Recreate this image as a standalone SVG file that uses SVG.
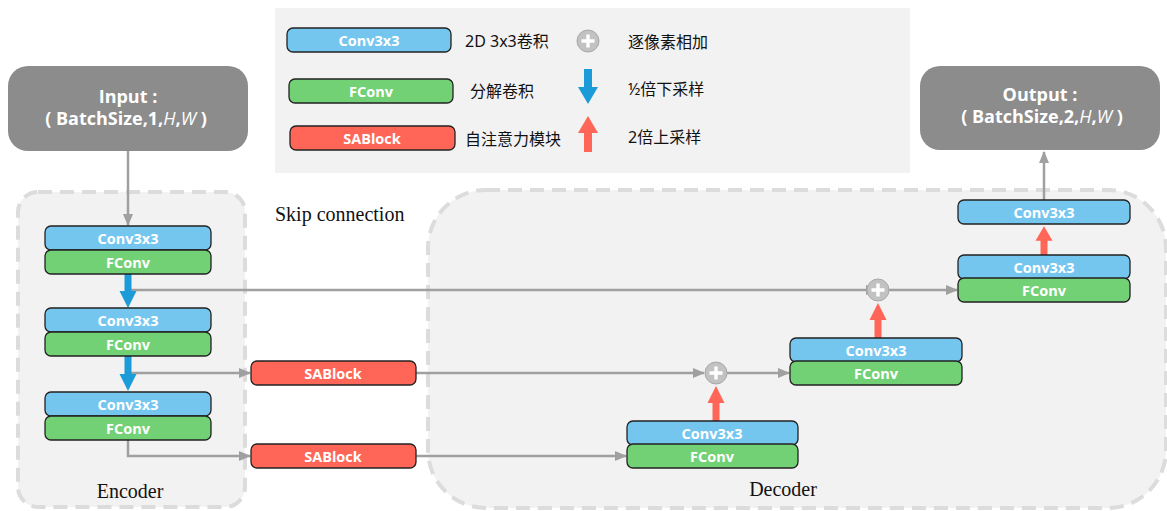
<svg xmlns="http://www.w3.org/2000/svg" width="1167" height="511" viewBox="0 0 1167 511">
<defs>
<style>
.cv{fill:#75c6ef;stroke:#222;stroke-width:1.3}
.fc{fill:#72d174;stroke:#222;stroke-width:1.3}
.sa{fill:#ff6657;stroke:#222;stroke-width:1.3}
.bt{font-family:"Open Sans","Noto Sans",sans-serif;font-weight:bold;font-size:14.5px;fill:#fff;text-anchor:middle;dominant-baseline:central}
.lg{font-family:"Noto Sans","Noto Sans CJK SC",sans-serif;font-size:16px;fill:#111;dominant-baseline:central}
.io{font-family:"Open Sans","Noto Sans",sans-serif;font-weight:bold;font-size:18px;fill:#fff;text-anchor:middle}
.sr{font-family:"Liberation Serif",serif;font-size:20px;fill:#111}
.ln{fill:none;stroke:#a0a0a0;stroke-width:2.5}
.grp{fill:#f2f2f2;stroke:#dcdcdc;stroke-width:4;stroke-dasharray:14 8}
.dn{fill:#1b9bd8}
.up{fill:#ff6657}
</style>
<marker id="ah" viewBox="0 0 12 12" refX="11" refY="6" markerWidth="12" markerHeight="12" markerUnits="userSpaceOnUse" orient="auto">
<path d="M0,1 L12,6 L0,11 Z" fill="#a0a0a0"/>
</marker>
<g id="plus">
<circle r="11" fill="#c2c2c2" stroke="#a8a8a8" stroke-width="1"/>
<path d="M-6.5,0 H6.5 M0,-6.5 V6.5" stroke="#fff" stroke-width="3.4"/>
</g>
<path id="darr" d="M-3.5,0 H3.5 V18 H8.5 L0,35 L-8.5,18 H-3.5 Z"/>
<path id="uarr" d="M-3.5,0 H3.5 V-18 H8.5 L0,-35 L-8.5,-18 H-3.5 Z"/>
</defs>
<rect width="1167" height="511" fill="#fff"/>

<g id="legend">
<rect x="275" y="8" width="635" height="165" fill="#f2f2f2"/>
<rect class="cv" x="287" y="28" width="164" height="24" rx="6"/>
<text class="bt" x="369" y="40">Conv3x3</text>
<text class="lg" x="465" y="41">2D 3x3卷积</text>
<use href="#plus" x="588" y="41"/>
<text class="lg" x="628" y="42">逐像素相加</text>
<rect class="fc" x="289" y="79" width="164" height="24" rx="6"/>
<text class="bt" x="371" y="91">FConv</text>
<text class="lg" x="470" y="91">分解卷积</text>
<path class="dn" d="M584,69 H592 V87 H598 L588,104 L578,87 H584 Z"/>
<text class="lg" x="628" y="89">½倍下采样</text>
<rect class="sa" x="290" y="126" width="165" height="24" rx="6"/>
<text class="bt" x="372" y="138">SABlock</text>
<text class="lg" x="465" y="139">自注意力模块</text>
<path class="up" d="M584,152 H592 V133 H598 L588,116 L578,133 H584 Z"/>
<text class="lg" x="628" y="137">2倍上采样</text>
</g>

<g id="encoder">
<rect class="grp" x="18" y="192" width="227" height="315" rx="20"/>
<text class="sr" x="130" y="498" text-anchor="middle">Encoder</text>
</g>
<g id="decoder">
<rect class="grp" x="428" y="190" width="738" height="318" rx="58"/>
<text class="sr" x="783" y="496" text-anchor="middle">Decoder</text>
</g>
<text id="skip-label" class="sr" x="275" y="221" font-size="21">Skip connection</text>

<g id="input">
<rect x="8" y="66" width="240" height="85" rx="20" fill="#8c8c8c"/>
<text class="io" x="128" y="103">Input :</text>
<text class="io" x="126" y="125">( BatchSize,1,<tspan font-style="italic" font-weight="normal">H</tspan>,<tspan font-style="italic" font-weight="normal">W</tspan> )</text>
</g>
<g id="output">
<rect x="920" y="66" width="240" height="84" rx="20" fill="#8c8c8c"/>
<text class="io" x="1040" y="101">Output :</text>
<text class="io" x="1042" y="123">( BatchSize,2,<tspan font-style="italic" font-weight="normal">H</tspan>,<tspan font-style="italic" font-weight="normal">W</tspan> )</text>
</g>

<g id="connectors">
<path class="ln" d="M128,151 V225" marker-end="url(#ah)"/>
<path class="ln" d="M131,290 H877" marker-end="url(#ah)"/>
<path class="ln" d="M889,290 H957" marker-end="url(#ah)"/>
<path class="ln" d="M131,373 H250" marker-end="url(#ah)"/>
<path class="ln" d="M416,373 H704" marker-end="url(#ah)"/>
<path class="ln" d="M727,373 H789" marker-end="url(#ah)"/>
<path class="ln" d="M128,439 V456 H250" marker-end="url(#ah)"/>
<path class="ln" d="M416,456 H626" marker-end="url(#ah)"/>
<path class="ln" d="M1044,200 V152" marker-end="url(#ah)"/>
<use href="#darr" class="dn" x="128" y="273"/>
<use href="#darr" class="dn" x="128" y="356"/>
<use href="#uarr" class="up" x="716" y="421"/>
<use href="#uarr" class="up" x="878" y="338"/>
<use href="#uarr" class="up" x="1044" y="256" transform="translate(1044,256) scale(1,0.85) translate(-1044,-256)"/>
</g>

<g id="enc1">
<rect class="cv" x="45" y="226" width="166" height="24" rx="6"/>
<text class="bt" x="128" y="238">Conv3x3</text>
<rect class="fc" x="45" y="250" width="166" height="24" rx="6"/>
<text class="bt" x="128" y="262">FConv</text>
</g>
<g id="enc2">
<rect class="cv" x="45" y="308" width="166" height="24" rx="6"/>
<text class="bt" x="128" y="320">Conv3x3</text>
<rect class="fc" x="45" y="332" width="166" height="24" rx="6"/>
<text class="bt" x="128" y="344">FConv</text>
</g>
<g id="enc3">
<rect class="cv" x="45" y="392" width="166" height="24" rx="6"/>
<text class="bt" x="128" y="404">Conv3x3</text>
<rect class="fc" x="45" y="416" width="166" height="24" rx="6"/>
<text class="bt" x="128" y="428">FConv</text>
</g>
<g id="sa1">
<rect class="sa" x="251" y="361" width="165" height="24" rx="6"/>
<text class="bt" x="333" y="373">SABlock</text>
</g>
<g id="sa2">
<rect class="sa" x="251" y="444" width="165" height="24" rx="6"/>
<text class="bt" x="333" y="456">SABlock</text>
</g>
<g id="dec1">
<rect class="cv" x="627" y="421" width="171" height="24" rx="6"/>
<text class="bt" x="712" y="433">Conv3x3</text>
<rect class="fc" x="627" y="444" width="171" height="24" rx="6"/>
<text class="bt" x="712" y="456">FConv</text>
</g>
<g id="add2"><use href="#plus" x="716" y="373"/></g>
<g id="dec2">
<rect class="cv" x="790" y="338" width="172" height="24" rx="6"/>
<text class="bt" x="876" y="350">Conv3x3</text>
<rect class="fc" x="790" y="361" width="172" height="24" rx="6"/>
<text class="bt" x="876" y="373">FConv</text>
</g>
<g id="add1"><use href="#plus" x="878" y="290"/></g>
<g id="dec3">
<rect class="cv" x="958" y="255" width="172" height="24" rx="6"/>
<text class="bt" x="1044" y="267">Conv3x3</text>
<rect class="fc" x="958" y="278" width="172" height="24" rx="6"/>
<text class="bt" x="1044" y="290">FConv</text>
</g>
<g id="dec4">
<rect class="cv" x="958" y="200" width="172" height="24" rx="6"/>
<text class="bt" x="1044" y="212">Conv3x3</text>
</g>
</svg>
